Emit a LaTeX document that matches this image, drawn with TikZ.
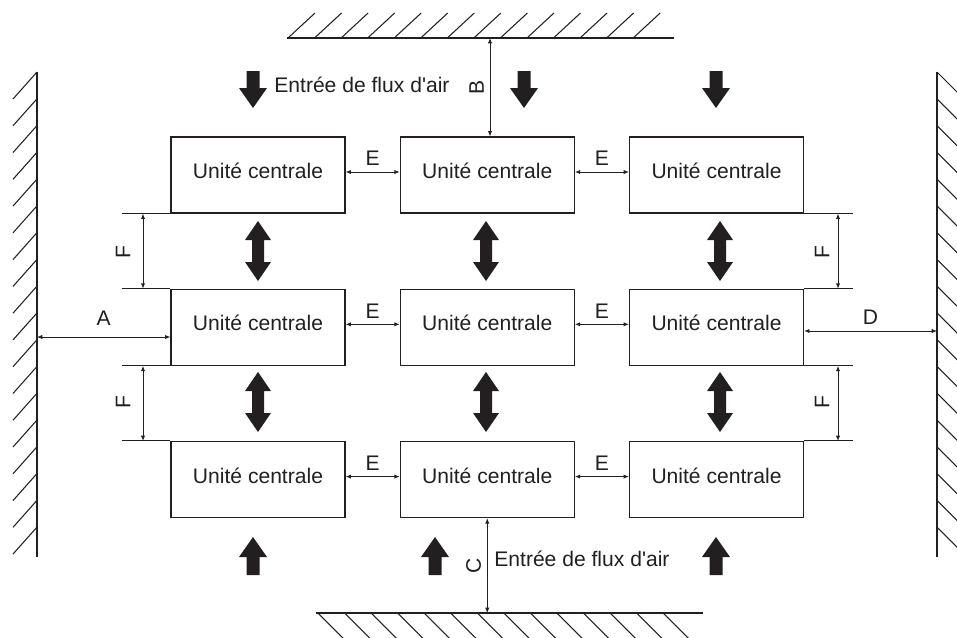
\documentclass[tikz,border=0pt]{standalone}
\usepackage{fontspec}
\setmainfont{Liberation Sans}
\usetikzlibrary{arrows.meta, positioning, calc}
\definecolor{ink}{HTML}{231F20}

\begin{document}
\begin{tikzpicture}[
  x=0.02cm, y=-0.02cm,
  every node/.style={font=\fontsize{12pt}{14pt}\selectfont, text=ink},
  unitbox/.style={draw=ink, line width=0.75pt, rectangle, minimum width=3.48cm, minimum height=1.52cm, inner sep=0pt, text height=9pt, text depth=5pt},
  dim/.style={{Latex[length=3pt,width=2.4pt]}-{Latex[length=3pt,width=2.4pt]}, line width=0.45pt, draw=ink},
  ext/.style={line width=0.6pt, draw=ink},
  wall/.style={line width=0.75pt, draw=ink},
  hatch/.style={line width=0.6pt, draw=ink},
  flowdown/.pic={\fill[ink] (-6.5,0) -- (6.5,0) -- (6.5,17) -- (14,17) -- (0,37) -- (-14,17) -- (-6.5,17) -- cycle;},
  flowup/.pic={\fill[ink] (0,0) -- (14,20) -- (6.5,20) -- (6.5,38) -- (-6.5,38) -- (-6.5,20) -- (-14,20) -- cycle;},
  flowboth/.pic={\fill[ink] (0,0) -- (13,19) -- (6,19) -- (6,41) -- (13,41) -- (0,60) -- (-13,41) -- (-6,41) -- (-6,19) -- (-13,19) -- cycle;}
]
\useasboundingbox (0,0) rectangle (957,637);
\clip (0,0) rectangle (957,637);

% Walls
\draw[wall] (287,38) -- (674,38);
\foreach \i in {0,...,13} \draw[hatch] (288+26.55*\i,38) -- ++(27,-25);
\draw[wall] (316,613) -- (703,613);
\foreach \i in {0,...,13} \draw[hatch] (318+26.55*\i,613) -- ++(27,27);
\draw[wall] (37,72) -- (37,557);
\foreach \i in {0,...,17} \draw[hatch] (37,72+26.77*\i) -- ++(-24,27);
\draw[wall] (937,72) -- (937,557);
\foreach \i in {0,...,17} \draw[hatch] (937,72+26.77*\i) -- ++(24,24);

\coordinate (wallT) at (490,38);
\coordinate (wallB) at (486,613);
\coordinate (wallL) at (37,337);
\coordinate (wallR) at (937,331);

% Units
\node[unitbox] (U11) at (258,175) {Unité centrale};
\node[unitbox] (U12) [right=1.08cm of U11] {Unité centrale};
\node[unitbox] (U13) [right=1.08cm of U12] {Unité centrale};
\node[unitbox] (U21) [below=1.5cm of U11] {Unité centrale};
\node[unitbox] (U22) [right=1.08cm of U21] {Unité centrale};
\node[unitbox] (U23) [right=1.08cm of U22] {Unité centrale};
\node[unitbox] (U31) [below=1.5cm of U21] {Unité centrale};
\node[unitbox] (U32) [right=1.08cm of U31] {Unité centrale};
\node[unitbox] (U33) [right=1.08cm of U32] {Unité centrale};

% Air flow
\pic at (253,71) {flowdown};
\pic at (524,71) {flowdown};
\pic at (716,71) {flowdown};
\pic at (253,537) {flowup};
\pic at (435,537) {flowup};
\pic at (716,537) {flowup};
\foreach \x in {258,486,720} {
  \pic at (\x,221) {flowboth};
  \pic at (\x,372) {flowboth};
}
\node[anchor=west, inner sep=0pt] (AirTop) at (274,85) {Entrée de flux d\textquotesingle air};
\node[anchor=west, inner sep=0pt] (AirBot) at (494,559) {Entrée de flux d\textquotesingle air};

% Spacing E
\foreach \a/\b in {U11/U12, U12/U13, U21/U22, U22/U23, U31/U32, U32/U33}
  \draw[dim] ([yshift=1.7pt]\a.east) -- ([yshift=1.7pt]\b.west) node[midway, above] {E};

% Spacing A, D, B, C
\draw[dim] (wallL) -- (wallL -| U21.west) node[midway, above=3pt] {A};
\draw[dim] (U23.east |- wallR) -- (wallR) node[midway, above] {D};
\draw[dim] (wallT) -- (wallT |- U12.north) node[midway, rotate=90, above] {B};
\draw[dim] (U32.south) -- (U32.south |- wallB) node[midway, rotate=90, above] {C};

% Spacing F
\coordinate (FxL) at (143,0);
\coordinate (FxR) at (838,0);
\foreach \u in {U11, U21} \draw[ext] (\u.south west) -- +(-48,0);
\foreach \u in {U21, U31} \draw[ext] (\u.north west) -- +(-48,0);
\foreach \u in {U13, U23} \draw[ext] (\u.south east) -- +(49,0);
\foreach \u in {U23, U33} \draw[ext] (\u.north east) -- +(49,0);
\draw[dim] (U11.south west -| FxL) -- (U21.north west -| FxL);
\draw[dim] (U21.south west -| FxL) -- (U31.north west -| FxL);
\draw[dim] (U13.south east -| FxR) -- (U23.north east -| FxR);
\draw[dim] (U23.south east -| FxR) -- (U33.north east -| FxR);
\node[rotate=90] (F1) at (123,252) {F};
\node[rotate=90] (F2) at (123,402) {F};
\node[rotate=90] (F3) at (822,252) {F};
\node[rotate=90] (F4) at (822,402) {F};
\end{tikzpicture}
\end{document}
